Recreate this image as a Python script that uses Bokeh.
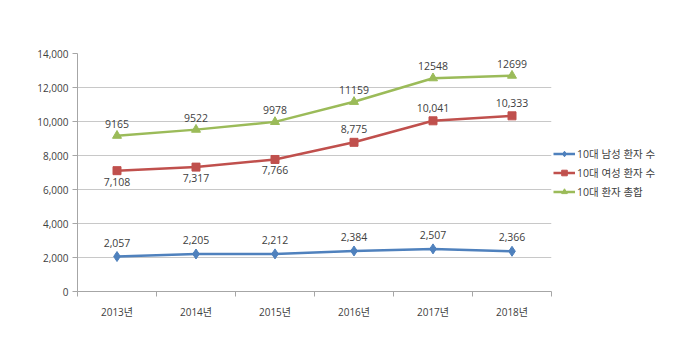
from bokeh.plotting import figure
from bokeh.models import (ColumnDataSource, Range1d, FixedTicker, NumeralTickFormatter,
                          LabelSet, Legend, LegendItem)
from bokeh.core.properties import value
from bokeh.embed import file_html
from bokeh.resources import INLINE

years = ["2013년", "2014년", "2015년", "2016년", "2017년", "2018년"]
male = [2057, 2205, 2212, 2384, 2507, 2366]
female = [7108, 7317, 7766, 8775, 10041, 10333]
total = [9165, 9522, 9978, 11159, 12548, 12699]
female_label_below = [True, True, True, False, False, False]
series_names = ["10대 남성 환자 수", "10대 여성 환자 수", "10대 환자 총합"]
y_ticks = [0, 2000, 4000, 6000, 8000, 10000, 12000, 14000]

FONT = "Open Sans, 'Noto Sans CJK KR', sans-serif"
BLUE = "#4f81bd"
RED = "#c0504d"
GREEN = "#9bbb59"
TXT = "#404040"

xs = [i + 0.5 for i in range(len(years))]

p = figure(frame_width=474, frame_height=238, output_backend="svg", toolbar_location=None,
           x_range=Range1d(0, len(years)), y_range=Range1d(0, 14000),
           min_border_left=77, min_border_top=53, min_border_bottom=55, min_border_right=10)
p.background_fill_color = "white"
p.border_fill_color = "white"
p.outline_line_color = None

# axes
p.xaxis.ticker = FixedTicker(ticks=xs, minor_ticks=list(range(len(years) + 1)))
p.xaxis.major_label_overrides = {x: y for x, y in zip(xs, years)}
p.xaxis.major_tick_out = 0
p.xaxis.major_tick_in = 0
p.xaxis.minor_tick_out = 5
p.xaxis.minor_tick_in = 0
p.xaxis.minor_tick_line_color = "#a6a6a6"
p.xaxis.axis_line_color = "#a6a6a6"
p.xaxis.major_label_standoff = 8
p.xgrid.visible = False

p.yaxis.ticker = FixedTicker(ticks=y_ticks)
p.yaxis.formatter = NumeralTickFormatter(format="0,0")
p.yaxis.major_tick_out = 5
p.yaxis.major_tick_in = 0
p.yaxis.minor_tick_line_color = None
p.yaxis.major_tick_line_color = "#a6a6a6"
p.yaxis.axis_line_color = "#a6a6a6"
p.yaxis.major_label_standoff = 4
p.ygrid.ticker = FixedTicker(ticks=y_ticks)
p.ygrid.grid_line_color = "#c8c8c8"

for ax in (p.xaxis, p.yaxis):
    ax.major_label_text_font = FONT
    ax.major_label_text_font_size = "10px"
    ax.major_label_text_color = TXT

src = ColumnDataSource(dict(
    x=xs, male=male, female=female, total=total,
    male_t=[f"{v:,}" for v in male],
    female_t=[f"{v:,}" for v in female],
    total_t=[str(v) for v in total],
    female_off=[-11 if b else 13 for b in female_label_below],
))

l1 = p.line("x", "male", source=src, line_color=BLUE, line_width=2.5)
m1 = p.scatter("x", "male", source=src, marker="diamond", size=10, fill_color=BLUE, line_color=BLUE)
l2 = p.line("x", "female", source=src, line_color=RED, line_width=2.5)
m2 = p.scatter("x", "female", source=src, marker="square", size=8, fill_color=RED, line_color=RED)
l3 = p.line("x", "total", source=src, line_color=GREEN, line_width=2.5)
m3 = p.scatter("x", "total", source=src, marker="triangle", size=9, fill_color=GREEN, line_color=GREEN)

for ycol, tcol, yoff in (("male", "male_t", 14), ("female", "female_t", "female_off"),
                         ("total", "total_t", 12)):
    p.add_layout(LabelSet(x="x", y=ycol, text=tcol, source=src, y_offset=yoff,
                          text_align="center", text_baseline="middle",
                          text_font=value(FONT), text_font_size=value("10.5px"),
                          text_color=TXT))

legend = Legend(items=[
    LegendItem(label=series_names[0], renderers=[l1, m1]),
    LegendItem(label=series_names[1], renderers=[l2, m2]),
    LegendItem(label=series_names[2], renderers=[l3, m3]),
], location="left", orientation="vertical")
legend.border_line_color = None
legend.background_fill_alpha = 0
legend.label_text_font = FONT
legend.label_text_font_size = "10.5px"
legend.label_text_color = TXT
legend.glyph_width = 22
legend.glyph_height = 14
legend.label_standoff = 2
legend.spacing = 4
legend.padding = 2
legend.margin = 2
p.add_layout(legend, "right")

open("out.html", "w").write(file_html(p, INLINE))
